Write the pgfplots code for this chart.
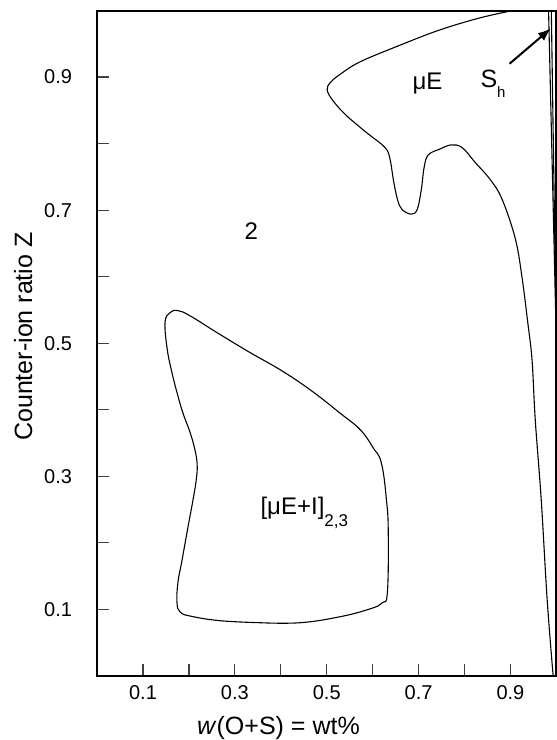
\documentclass[border=0pt]{standalone}
\usepackage{pgfplots}
\pgfplotsset{compat=1.18}
\usepackage{fontspec}
\setmainfont{Liberation Sans}
\usetikzlibrary{arrows.meta}

% outer boundary of the microemulsion region
\pgfplotstableread{
x y
0.906 1.000
0.834 0.989
0.747 0.971
0.660 0.948
0.573 0.923
0.529 0.904
0.508 0.892
0.501 0.881
0.512 0.866
0.540 0.844
0.584 0.818
0.627 0.794
0.638 0.776
0.645 0.746
0.654 0.716
0.664 0.701
0.684 0.694
0.697 0.701
0.706 0.731
0.712 0.764
0.721 0.783
0.747 0.792
0.771 0.798
0.795 0.794
0.824 0.771
0.856 0.746
0.882 0.716
0.911 0.656
0.926 0.595
0.937 0.535
0.947 0.475
0.954 0.385
0.967 0.265
0.980 0.114
0.993 0.000
}\muE

% closed [uE+I] region
\pgfplotstableread{
x y
0.355 0.080
0.268 0.083
0.203 0.090
0.181 0.096
0.174 0.110
0.176 0.140
0.185 0.174
0.198 0.224
0.209 0.265
0.216 0.295
0.218 0.316
0.214 0.337
0.203 0.365
0.187 0.395
0.174 0.426
0.163 0.456
0.153 0.490
0.148 0.531
0.159 0.546
0.176 0.549
0.203 0.541
0.261 0.516
0.333 0.486
0.399 0.460
0.464 0.430
0.529 0.395
0.573 0.370
0.601 0.343
0.619 0.320
0.630 0.265
0.634 0.215
0.632 0.125
0.621 0.110
0.595 0.101
0.529 0.089
0.442 0.080
0.355 0.080
}\muEI

\begin{document}
\begin{tikzpicture}
\begin{axis}[
    scale only axis,
    width=229.5pt, height=332.5pt,
    xmin=0, xmax=1, ymin=0, ymax=1,
    axis line style={line width=1pt},
    tick align=inside,
    tick pos=left,
    major tick length=6pt,
    tick style={line width=0.6pt, black!75},
    xtick={0.1,0.2,...,0.9},
    xticklabels={0.1,,0.3,,0.5,,0.7,,0.9},
    ytick={0.1,0.2,...,0.9},
    yticklabels={0.1,,0.3,,0.5,,0.7,,0.9},
    tick label style={font=\fontsize{10}{12}\selectfont},
    xticklabel style={yshift=-1pt},
    yticklabel style={xshift=-9pt},
    label style={font=\fontsize{12.5}{14}\selectfont},
    xlabel={\textit{w}(O+S) = wt\%},
    ylabel={Counter-ion ratio Z},
    xlabel style={at={(axis description cs:0.395,-0.078)}, anchor=center},
    ylabel style={at={(axis description cs:-0.161,0.51)}, anchor=center},
]
\addplot[black, line width=0.55pt, smooth, tension=0.6] table {\muE};
\addplot[black, line width=0.55pt, smooth, tension=0.7] table {\muEI};
\addplot[black, line width=0.55pt] coordinates {(0.983,1.0) (1.0,0.5)};
\addplot[black, line width=0.55pt] coordinates {(0.989,1.0) (1.0,0.5)};

\draw[line width=1pt, -{Latex[length=6.5pt,width=5pt]}] (axis cs:0.898,0.920) -- (axis cs:0.988,0.973);

\node[font=\fontsize{12}{14}\selectfont, anchor=base west, inner sep=0pt] at (axis cs:0.686,0.881) {μE};
\node[font=\fontsize{12.5}{14}\selectfont, anchor=base west, inner sep=0pt] at (axis cs:0.834,0.884) {S\raisebox{-5pt}{\fontsize{7.5}{8}\selectfont h}};
\node[font=\fontsize{12}{14}\selectfont] at (axis cs:0.336,0.668) {2};
\node[font=\fontsize{12}{14}\selectfont, anchor=base west, inner sep=0pt] at (axis cs:0.355,0.242) {[μE+I]\raisebox{-6pt}{\fontsize{8.5}{9}\selectfont 2,3}};
\end{axis}
\pgfresetboundingbox
\useasboundingbox (-48.5pt,-32pt) rectangle (229.5pt,337.75pt);
\end{tikzpicture}
\end{document}
